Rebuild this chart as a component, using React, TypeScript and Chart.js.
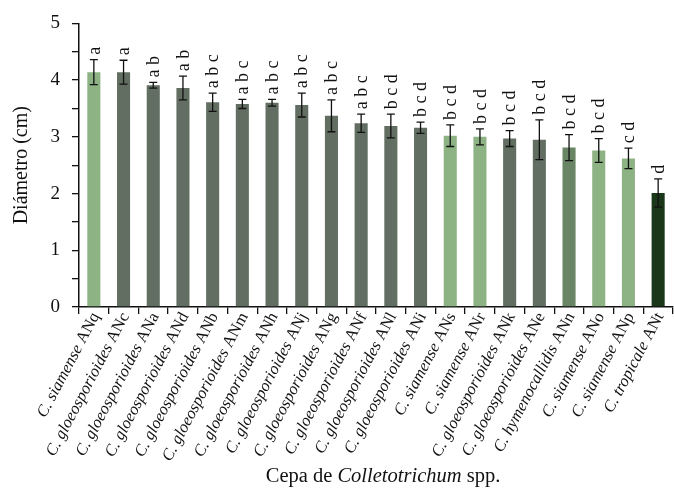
import React, { useEffect, useRef } from "react";
import { Chart, registerables } from "chart.js";

Chart.register(...registerables);

const categories = [
  "C. siamense ANq",
  "C. gloeosporioides ANc",
  "C. gloeosporioides ANa",
  "C. gloeosporioides ANd",
  "C. gloeosporioides ANb",
  "C. gloeosporioides ANm",
  "C. gloeosporioides ANh",
  "C. gloeosporioides ANj",
  "C. gloeosporioides ANg",
  "C. gloeosporioides ANf",
  "C. gloeosporioides ANl",
  "C. gloeosporioides ANi",
  "C. siamense ANs",
  "C. siamense ANr",
  "C. gloeosporioides ANk",
  "C. gloeosporioides ANe",
  "C. hymenocallidis ANn",
  "C. siamense ANo",
  "C. siamense ANp",
  "C. tropicale ANt",
];

const diameters = [4.14, 4.14, 3.91, 3.86, 3.61, 3.58, 3.6, 3.56, 3.37, 3.24, 3.19, 3.16, 3.02, 3.0, 2.97, 2.95, 2.81, 2.76, 2.62, 2.01];
const errors = [0.22, 0.21, 0.05, 0.21, 0.16, 0.08, 0.06, 0.21, 0.28, 0.16, 0.21, 0.1, 0.19, 0.14, 0.14, 0.35, 0.23, 0.21, 0.18, 0.25];
const letters = ["a", "a", "a b", "a b", "a b c", "a b c", "a b c", "a b c", "a b c", "a b c", "b c d", "b c d", "b c d", "b c d", "b c d", "b c d", "b c d", "b c d", "c d", "d"];
const species = ["siamense", "gloeo", "gloeo", "gloeo", "gloeo", "gloeo", "gloeo", "gloeo", "gloeo", "gloeo", "gloeo", "gloeo", "siamense", "siamense", "gloeo", "gloeo", "hymeno", "siamense", "siamense", "tropicale"];

const speciesColors: Record<string, string> = {
  siamense: "#8db384",
  gloeo: "#626e61",
  hymeno: "#6a8565",
  tropicale: "#1a3819",
};

const SERIF = "'Liberation Serif', 'Times New Roman', serif";
const LABEL_ANGLE = (62 * Math.PI) / 180;

const overlayPlugin = {
  id: "overlay",
  afterDatasetsDraw(chart: any) {
    const ctx = chart.ctx;
    const meta = chart.getDatasetMeta(0);
    const y = chart.scales.y;
    ctx.save();
    ctx.strokeStyle = "#111";
    ctx.lineWidth = 1.3;
    meta.data.forEach((bar: any, i: number) => {
      const x = bar.x;
      const top = y.getPixelForValue(diameters[i] + errors[i]);
      const bot = y.getPixelForValue(diameters[i] - errors[i]);
      ctx.beginPath();
      ctx.moveTo(x, top);
      ctx.lineTo(x, bot);
      ctx.moveTo(x - 4, top);
      ctx.lineTo(x + 4, top);
      ctx.moveTo(x - 4, bot);
      ctx.lineTo(x + 4, bot);
      ctx.stroke();
      ctx.save();
      ctx.translate(x + 1, top - 5);
      ctx.rotate(-Math.PI / 2);
      ctx.fillStyle = "#111";
      ctx.font = `18px ${SERIF}`;
      ctx.textAlign = "left";
      ctx.textBaseline = "middle";
      ctx.fillText(letters[i], 0, 0);
      ctx.restore();
    });
    ctx.restore();
  },
  afterDraw(chart: any) {
    const ctx = chart.ctx;
    const area = chart.chartArea;
    const xs = chart.scales.x;
    ctx.save();
    ctx.fillStyle = "#111";

    // category labels: species in italics, strain code upright
    const italicFont = `italic 16.5px ${SERIF}`;
    const normalFont = `16.5px ${SERIF}`;
    (chart.data.labels as string[]).forEach((label, i) => {
      const cut = label.lastIndexOf(" ");
      const sp = label.slice(0, cut + 1);
      const code = label.slice(cut + 1);
      ctx.font = italicFont;
      const w1 = ctx.measureText(sp).width;
      ctx.font = normalFont;
      const w2 = ctx.measureText(code).width;
      const px = xs.getPixelForValue(i);
      ctx.save();
      ctx.translate(px + 2, area.bottom + 7);
      ctx.rotate(-LABEL_ANGLE);
      ctx.textAlign = "left";
      ctx.textBaseline = "middle";
      ctx.font = italicFont;
      ctx.fillText(sp, -(w1 + w2), 0);
      ctx.font = normalFont;
      ctx.fillText(code, -w2, 0);
      ctx.restore();
    });

    // y title
    ctx.save();
    ctx.translate(22, (area.top + area.bottom) / 2);
    ctx.rotate(-Math.PI / 2);
    ctx.font = `20px ${SERIF}`;
    ctx.textAlign = "center";
    ctx.textBaseline = "middle";
    ctx.fillText("Diámetro (cm)", 0, 0);
    ctx.restore();

    // x title
    const parts = [
      { t: "Cepa de ", f: `20.5px ${SERIF}` },
      { t: "Colletotrichum", f: `italic 20.5px ${SERIF}` },
      { t: " spp.", f: `20.5px ${SERIF}` },
    ];
    let total = 0;
    parts.forEach((p) => {
      ctx.font = p.f;
      total += ctx.measureText(p.t).width;
    });
    let x = (area.left + area.right) / 2 + 7 - total / 2;
    ctx.textBaseline = "middle";
    ctx.textAlign = "left";
    parts.forEach((p) => {
      ctx.font = p.f;
      ctx.fillText(p.t, x, 477);
      x += ctx.measureText(p.t).width;
    });
    ctx.restore();
  },
};

export default function App() {
  const canvasRef = useRef<HTMLCanvasElement>(null);

  useEffect(() => {
    if (!canvasRef.current) return;
    const chart = new Chart(canvasRef.current, {
      type: "bar",
      data: {
        labels: categories,
        datasets: [
          {
            data: diameters,
            backgroundColor: species.map((s) => speciesColors[s]),
            barPercentage: 0.44,
            categoryPercentage: 1,
          },
        ],
      },
      options: {
        animation: false,
        responsive: true,
        maintainAspectRatio: false,
        layout: { padding: { top: 21, right: 1, left: 0, bottom: 0 } },
        plugins: {
          legend: { display: false },
          tooltip: { enabled: false },
        },
        scales: {
          x: {
            grid: {
              display: true,
              drawOnChartArea: false,
              drawTicks: true,
              tickLength: 7,
              color: "#111",
              lineWidth: 1.3,
            },
            border: { display: true, color: "#111", width: 1.5 },
            ticks: { display: false },
            afterFit: (scale: any) => {
              scale.height = 181;
            },
          },
          y: {
            min: 0,
            max: 5,
            grid: {
              display: true,
              drawOnChartArea: false,
              drawTicks: true,
              tickLength: 7,
              color: "#111",
              lineWidth: 1.3,
            },
            border: { display: true, color: "#111", width: 1.5 },
            ticks: {
              stepSize: 0.5,
              color: "#111",
              font: { family: SERIF, size: 19 },
              padding: 12,
              callback: (v: any) => (Number.isInteger(v) ? String(v) : ""),
            },
            afterFit: (scale: any) => {
              scale.width = 79;
            },
          },
        },
      },
      plugins: [overlayPlugin],
    });
    return () => chart.destroy();
  }, []);

  return (
    <div style={{ position: "absolute", left: 0, top: 0, width: 674, height: 488 }}>
      <canvas ref={canvasRef} />
    </div>
  );
}
